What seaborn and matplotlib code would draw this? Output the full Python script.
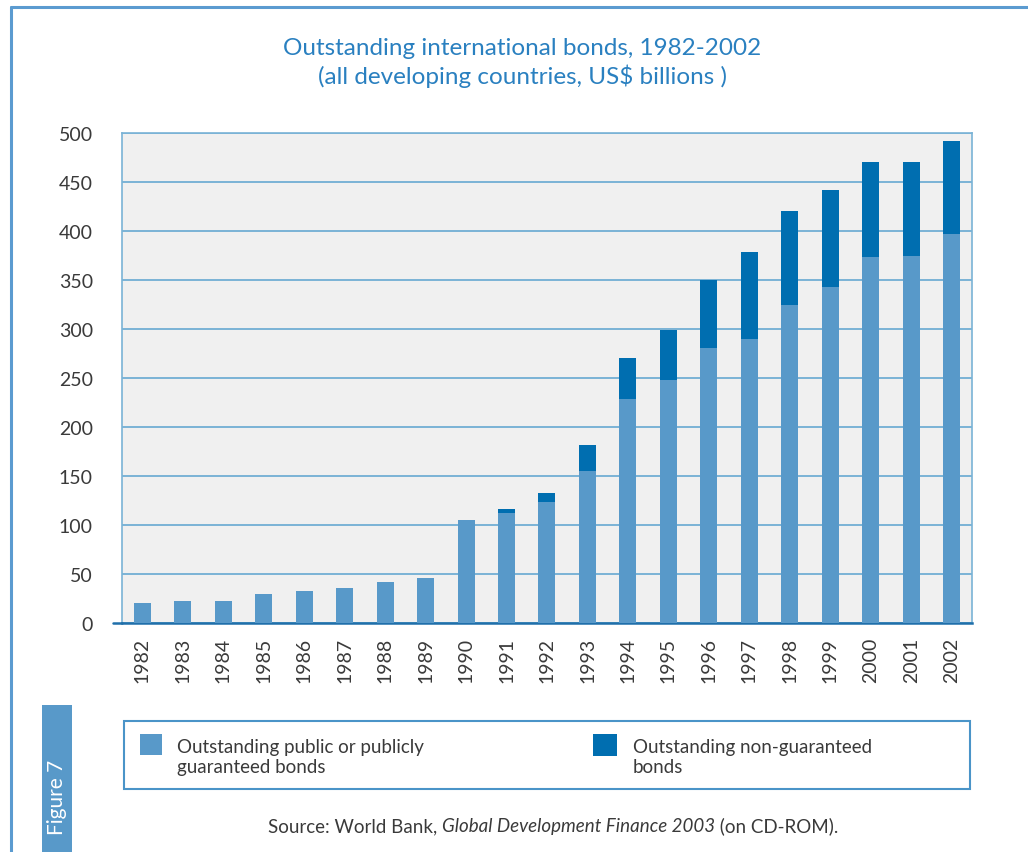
import seaborn as sns
import pandas as pd
import matplotlib.pyplot as plt
from matplotlib.patches import Rectangle
from matplotlib.lines import Line2D

years = [str(y) for y in range(1982, 2003)]
public = [20, 22, 22, 29.5, 32.5, 35.5, 41.5, 46, 105, 112, 123.5, 155,
          228.5, 248, 280.5, 290, 324.5, 343, 373.5, 374.5, 397]
non_guaranteed = [0, 0, 0, 0, 0, 0, 0, 0, 0, 4, 9, 27,
                  42, 51, 69, 89, 96, 99, 97, 96, 95]

df = pd.DataFrame({"year": years, "public": public, "non_guaranteed": non_guaranteed})
df["total"] = df["public"] + df["non_guaranteed"]

light = "#5899c9"
dark = "#006eb0"
grid_c = "#7ab3d6"
text_c = "#3a3a3a"
title_c = "#2a80c0"

sns.set_style("white")
plt.rcParams["font.family"] = ["Lato", "DejaVu Sans"]

fig = plt.figure(figsize=(10.28, 8.53), dpi=100)
ax = fig.add_axes([0.1187, 0.2685, 0.8268, 0.5744])
ax.set_facecolor("#f0f0f0")

sns.barplot(data=df, x="year", y="total", color=dark, width=0.42,
            saturation=1, linewidth=0, ax=ax, zorder=3)
sns.barplot(data=df, x="year", y="public", color=light, width=0.42,
            saturation=1, linewidth=0, ax=ax, zorder=4)

ax.set_yticks(range(0, 501, 50))
ax.yaxis.grid(True, color=grid_c, linewidth=1.4, zorder=1)
ax.set_axisbelow(True)
ax.tick_params(axis="y", length=9, width=1.4, color=grid_c, pad=12,
               labelsize=14, labelcolor=text_c)
ax.tick_params(axis="x", which="major", length=0, pad=10, labelsize=14,
               labelcolor=text_c, labelrotation=90)
ax.set_xticks([i - 0.5 for i in range(22)], minor=True)
ax.tick_params(axis="x", which="minor", length=8, width=1.6, color="#1f6faa")
ax.set_xlabel("")
ax.set_ylabel("")
for s in ["left", "top", "right"]:
    ax.spines[s].set_color(grid_c)
    ax.spines[s].set_linewidth(1.2)
ax.spines["bottom"].set_color("#1f6faa")
ax.spines["bottom"].set_linewidth(1.8)
# extend baseline to the left like the tick marks
ax.plot([-0.72, -0.5], [0, 0], color="#1f6faa", lw=1.8, clip_on=False, zorder=5)
ax.set_ylim(0, 500)
ax.set_xlim(-0.5, 20.5)

fig.text(0.508, 0.926, "Outstanding international bonds, 1982-2002\n(all developing countries, US$ billions )",
         ha="center", va="center", fontsize=17.5, color=title_c, linespacing=1.3)

# page border
fig.add_artist(Line2D([0.0103, 0.0103], [0, 0.9906], color="#5b9bd0", lw=2.2))
fig.add_artist(Line2D([0.0103, 1.0], [0.9906, 0.9906], color="#5b9bd0", lw=2.2))

# figure tab
fig.add_artist(Rectangle((0.0409, 0), 0.0292, 0.1723, facecolor=light, edgecolor="none"))
fig.text(0.0555, 0.0657, "Figure 7", rotation=90, ha="center", va="center",
         color="white", fontsize=15)

# legend box
fig.add_artist(Rectangle((0.1206, 0.0739), 0.823, 0.0797, facecolor="none",
                         edgecolor="#4a94c8", lw=1.5))
fig.add_artist(Rectangle((0.1362, 0.1137), 0.0214, 0.0246, facecolor=light, edgecolor="none"))
fig.text(0.172, 0.1335, "Outstanding public or publicly\nguaranteed bonds", ha="left", va="top",
         fontsize=13.5, color=text_c, linespacing=1.22)
fig.add_artist(Rectangle((0.5768, 0.1125), 0.0233, 0.0258, facecolor=dark, edgecolor="none"))
fig.text(0.6158, 0.1335, "Outstanding non-guaranteed\nbonds", ha="left", va="top",
         fontsize=13.5, color=text_c, linespacing=1.22)

# source line with italic title
y_src = 0.0246
t1 = fig.text(0.261, y_src, "Source: World Bank, ", ha="left", va="baseline",
              fontsize=13.5, color=text_c)
t2 = fig.text(0, 0, "Global Development Finance 2003", fontsize=13.5, color=text_c,
              style="italic", ha="left", va="baseline")
t3 = fig.text(0, 0, " (on CD-ROM).", fontsize=13.5, color=text_c, ha="left", va="baseline")
fig.canvas.draw()
r = fig.canvas.get_renderer()
b1 = t1.get_window_extent(r)
t2.set_position((b1.x1 / fig.bbox.width, y_src))
fig.canvas.draw()
b2 = t2.get_window_extent(r)
t3.set_position((b2.x1 / fig.bbox.width, y_src))

fig.savefig("out.png", dpi=100, facecolor="white")
